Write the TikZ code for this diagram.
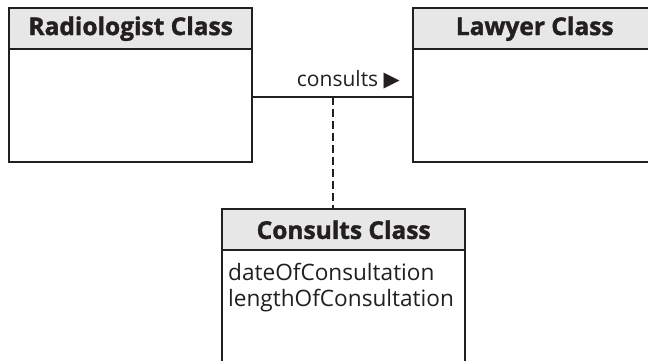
\documentclass[tikz,border=0pt]{standalone}
\usepackage{fontspec}
\setmainfont{Open Sans}[BoldFeatures={FakeBold=1.5}]
\newfontfamily\symfont{DejaVu Sans}
\usetikzlibrary{calc}
\definecolor{linec}{HTML}{231F20}
\definecolor{hdrfill}{HTML}{E6E7E6}
\tikzset{
  hdr/.style={draw=linec, line width=2.4pt, fill=hdrfill, minimum width=243pt, minimum height=41pt, anchor=north west, inner sep=0pt, font=\fontsize{24.5}{27}\selectfont\bfseries, text=linec},
  bodybox/.style={draw=linec, line width=2.4pt, fill=white, minimum width=243pt, anchor=north west, inner sep=0pt},
  attr/.style={anchor=base west, inner sep=0pt, font=\fontsize{22.6}{26}\selectfont, text=linec, align=left},
  conn/.style={draw=linec, line width=2.4pt}
}
\begin{document}
\begin{tikzpicture}[x=1pt,y=-1pt]
\useasboundingbox (0,0) rectangle (648,361);
\clip (0,0) rectangle (648,361);
\fill[white] (0,0) rectangle (648,361);
% Radiologist
\node[bodybox, minimum height=113pt] (radb) at (8,48) {};
\node[hdr] (radh) at (8,7) {Radiologist Class};
% Lawyer
\node[bodybox, minimum height=113pt] (lawb) at (412,48) {};
\node[hdr] (lawh) at (412,7) {Lawyer Class};
% Consults
\node[bodybox, minimum height=160pt] (conb) at (221,249) {};
\node[hdr] (conh) at (221,208) {Consults Class};
\node[attr] (attr1) at (228,280) {dateOfConsultation};
\node[attr] (attr2) at (228,306) {lengthOfConsultation};
% association
\coordinate (al) at ([yshift=9pt]radb.east);
\coordinate (ar) at ([yshift=9pt]lawb.west);
\draw[conn] (al) -- (ar);
\coordinate (am) at ($(al)!0.5!(ar)$);
\draw[conn, dash pattern=on 8pt off 4pt] (am) -- (am |- conh.north);
\node[anchor=base east, inner sep=0pt, font=\fontsize{21}{24}\selectfont, text=linec] (lbl) at (400,87) {consults {\symfont\fontsize{21}{21}\selectfont ▶}};
\end{tikzpicture}
\end{document}
